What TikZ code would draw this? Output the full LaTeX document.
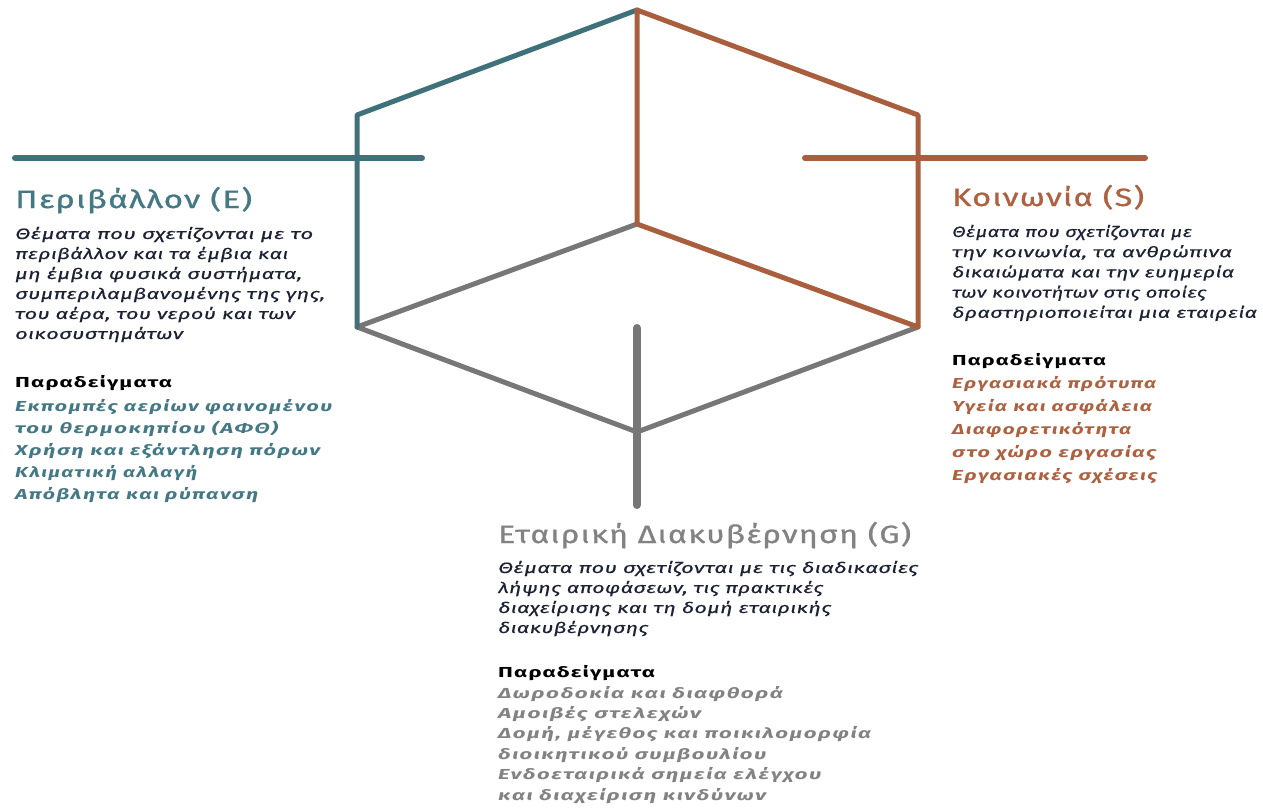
\documentclass[tikz,border=0pt]{standalone}
\usepackage{fontspec}
\usepackage{graphicx}
\setmainfont{Fira Sans}
\definecolor{teal1}{HTML}{3F717B}
\definecolor{tealT}{HTML}{437884}
\definecolor{rust1}{HTML}{A95E3E}
\definecolor{rustT}{HTML}{AD6140}
\definecolor{gray1}{HTML}{777777}
\definecolor{grayT}{HTML}{828282}
\definecolor{bodyc}{HTML}{1C2233}
\newsavebox\FitBox
\newcommand\FitLine[2]{\sbox\FitBox{#2}\pgfmathsetmacro\FitSx{#1/\the\wd\FitBox}\scalebox{\FitSx}[1]{\usebox\FitBox}}
\tikzset{
  edge/.style={line width=5pt, line join=round, line cap=round},
  bar/.style={line width=6pt, line cap=round},
  ttl/.style={inner sep=0, anchor=base west, font=\fontsize{25}{28}\selectfont\addfontfeature{LetterSpace=4,FakeBold=0.9}},
  bodytxt/.style={inner sep=0, anchor=base west, text=bodyc, font=\fontsize{15}{20}\selectfont\itshape\addfontfeature{LetterSpace=2,FakeBold=0.5}},
  head/.style={inner sep=0, anchor=base west, text=black, font=\fontsize{14.5}{20}\selectfont\bfseries\addfontfeature{LetterSpace=5}},
  ex/.style={inner sep=0, anchor=base west, font=\fontsize{14.5}{20}\selectfont\bfseries\itshape\addfontfeature{LetterSpace=7}},
}
\begin{document}
\begin{tikzpicture}[x=1pt,y=-1pt]
\useasboundingbox (0,0) rectangle (1263,809);
% vertices
\coordinate (T) at (637,10);
\coordinate (UL) at (357,115);
\coordinate (LL) at (357,327);
\coordinate (B) at (637,432);
\coordinate (LR) at (918,327);
\coordinate (UR) at (918,115);
\coordinate (C) at (637,224);
\coordinate (hE1) at (15,158);
\coordinate (hE2) at (422,158);
\coordinate (hS1) at (805,158);
\coordinate (hS2) at (1145,158);
\coordinate (vG1) at (637,328);
\coordinate (vG2) at (637,505);
% edges
\draw[edge, gray1] (C) -- (LL) -- (B) -- (LR);
\draw[edge, teal1] (LL) -- (UL) -- (T);
\draw[edge, rust1] (C) -- (T) -- (UR) -- (LR) -- (C);
\draw[bar, teal1] (hE1) -- (hE2);
\draw[bar, rust1] (hS1) -- (hS2);
\draw[bar, gray1, line width=8pt] (vG1) -- (vG2);
% Environment
\node[ttl, text=tealT] (tE) at (15,208) {\FitLine{237}{Περιβάλλον (E)}};
\foreach \ln/\w [count=\i from 0] in {{Θέματα που σχετίζονται με το}/298, {περιβάλλον και τα έμβια και}/273, {μη έμβια φυσικά συστήματα,}/287, {συμπεριλαμβανομένης της γης,}/310, {του αέρα, του νερού και των}/280, {οικοσυστημάτων}/168}
  \node[bodytxt] (bE\i) at (15,{239+\i*20}) {\FitLine{\w}{\ln}};
\node[head] (pE) at (15,387) {\FitLine{157}{Παραδείγματα}};
\foreach \ln/\w [count=\i from 0] in {{Εκπομπές αερίων φαινομένου}/317, {του θερμοκηπίου (ΑΦΘ)}/263, {Χρήση και εξάντληση πόρων}/305, {Κλιματική αλλαγή}/182, {Απόβλητα και ρύπανση}/243}
  \node[ex, text=tealT] (xE\i) at (15,{411+\i*22}) {\FitLine{\w}{\ln}};
% Society
\node[ttl, text=rustT] (tS) at (952,206) {\FitLine{192}{Κοινωνία (S)}};
\foreach \ln/\w [count=\i from 0] in {{Θέματα που σχετίζονται με}/240, {την κοινωνία, τα ανθρώπινα}/280, {δικαιώματα και την ευημερία}/282, {των κοινοτήτων στις οποίες}/254, {δραστηριοποιείται μια εταιρεία}/305}
  \node[bodytxt] (bS\i) at (952,{237+\i*20.2}) {\FitLine{\w}{\ln}};
\node[head] (pS) at (952,365) {\FitLine{154}{Παραδείγματα}};
\foreach \ln/\w [count=\i from 0] in {{Εργασιακά πρότυπα}/204, {Υγεία και ασφάλεια}/200, {Διαφορετικότητα}/179, {στο χώρο εργασίας}/204, {Εργασιακές σχέσεις}/205}
  \node[ex, text=rustT] (xS\i) at (952,{388+\i*23}) {\FitLine{\w}{\ln}};
% Governance
\node[ttl, text=grayT] (tG) at (498,543) {\FitLine{413}{Εταιρική Διακυβέρνηση (G)}};
\foreach \ln/\w [count=\i from 0] in {{Θέματα που σχετίζονται με τις διαδικασίες}/420, {λήψης αποφάσεων, τις πρακτικές}/325, {διαχείρισης και τη δομή εταιρικής}/333, {διακυβέρνησης}/150}
  \node[bodytxt] (bG\i) at (498,{573+\i*20}) {\FitLine{\w}{\ln}};
\node[head] (pG) at (498,677) {\FitLine{157}{Παραδείγματα}};
\foreach \ln/\w [count=\i from 0] in {{Δωροδοκία και διαφθορά}/285, {Αμοιβές στελεχών}/203, {Δομή, μέγεθος και ποικιλομορφία}/373, {διοικητικού συμβουλίου}/268, {Ενδοεταιρικά σημεία ελέγχου}/323, {και διαχείριση κινδύνων}/268}
  \node[ex, text=grayT] (xG\i) at (498,{698+\i*20.4}) {\FitLine{\w}{\ln}};
\end{tikzpicture}
\end{document}
